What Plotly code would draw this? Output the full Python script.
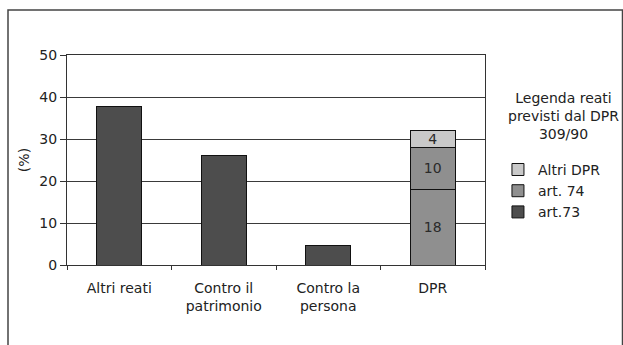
import plotly.graph_objects as go

categories = ["Altri reati", "Contro il<br>patrimonio", "Contro la<br>persona", "DPR"]
art73 = [37.8, 26.0, 4.6, 18]
art74 = [None, None, None, 10]
altri_dpr = [None, None, None, 4]
y_ticks = [0, 10, 20, 30, 40, 50]

FONT = "DejaVu Sans, Arial, sans-serif"
DARK = "#4d4d4d"
MID = "#8f8f8f"
LIGHT = "#c9c9c9"

def labels(vals):
    return [("" if v is None or i < 3 else str(int(v))) for i, v in enumerate(vals)]

common = dict(textposition="inside", insidetextanchor="middle", textangle=0,
              constraintext="none",
              textfont=dict(color="#2a2a2a", size=14, family=FONT))

fig = go.Figure()
fig.add_trace(go.Bar(x=categories, y=art73, name="art.73", legendrank=3,
                     marker=dict(color=[DARK, DARK, DARK, MID], line=dict(color="#111", width=1)),
                     text=labels(art73), **common))
fig.add_trace(go.Bar(x=categories, y=art74, name="art. 74", legendrank=2,
                     marker=dict(color=MID, line=dict(color="#111", width=1)),
                     text=labels(art74), **common))
fig.add_trace(go.Bar(x=categories, y=altri_dpr, name="Altri DPR", legendrank=1,
                     marker=dict(color=LIGHT, line=dict(color="#111", width=1)),
                     text=labels(altri_dpr), **common))

fig.update_layout(
    width=623, height=345,
    margin=dict(l=67, r=138, t=55, b=80, autoexpand=False),
    paper_bgcolor="white", plot_bgcolor="white",
    barmode="stack", bargap=0.57,
    font=dict(family=FONT, size=14, color="#222"),
    showlegend=True,
    legend=dict(x=1.031, y=0.529, xanchor="left", yanchor="top",
                traceorder="normal", font=dict(size=14, color="#222"),
                itemwidth=30, tracegroupgap=2, bgcolor="rgba(0,0,0,0)"),
    xaxis=dict(type="category", showline=True, linecolor="#333", linewidth=1, mirror=True,
               ticks="outside", tickson="boundaries", ticklen=4, tickcolor="#333",
               tickfont=dict(size=14, color="#222"), showgrid=False, automargin=False,
               ticklabelstandoff=10),
    yaxis=dict(range=[0, 50], tickvals=y_ticks, showline=True, linecolor="#333", linewidth=1,
               mirror=True, ticks="outside", ticklen=6, tickcolor="#333",
               showgrid=True, gridcolor="#3a3a3a", gridwidth=1, automargin=False,
               tickfont=dict(size=14, color="#222"),
               title=dict(text="(%)", standoff=6, font=dict(size=14, color="#222")),
               zeroline=False),
)

fig.add_annotation(xref="paper", yref="paper", x=1.187, y=0.71, xanchor="center", yanchor="middle",
                   text="Legenda reati<br>previsti dal DPR<br>309/90", showarrow=False,
                   align="center", font=dict(size=14, color="#222"))

# outer frame
fig.add_shape(type="rect", xref="paper", yref="paper",
              x0=-59/418, x1=555.5/418, y0=-0.6, y1=1 + 45/210,
              line=dict(color="#444", width=1.5), fillcolor="rgba(0,0,0,0)")

fig.write_html("out.html", config={"displayModeBar": False},
               post_script="document.body.style.margin='0';document.body.style.overflow='hidden';")
